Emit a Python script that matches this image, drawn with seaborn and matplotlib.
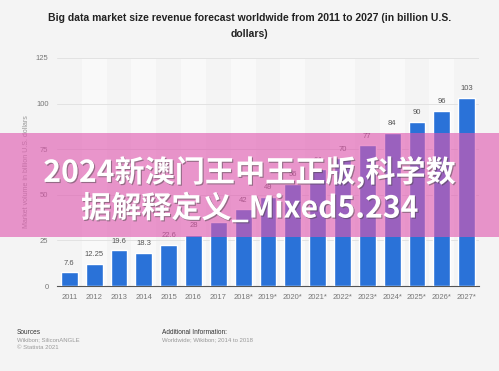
import pandas as pd
import matplotlib.pyplot as plt
import matplotlib.patheffects as pe
from matplotlib.patches import Rectangle
import seaborn as sns

# data
years = ['2011', '2012', '2013', '2014', '2015', '2016', '2017', '2018*', '2019*',
         '2020*', '2021*', '2022*', '2023*', '2024*', '2025*', '2026*', '2027*']
revenue = [7.6, 12.25, 19.6, 18.3, 22.6, 28, 35, 42, 49, 56, 64, 70, 77, 84, 90, 96, 103]
value_labels = ['7.6', '12.25', '19.6', '18.3', '22.6', '28', '35', '42', '49', '56',
                '64', '70', '77', '84', '90', '96', '103']
y_ticks = [0, 25, 50, 75, 100, 125]

title = 'Big data market size revenue forecast worldwide from 2011 to 2027 (in billion U.S.\ndollars)'
y_label = 'Market volume in billion U.S. dollars'
overlay_lines = ['2024新澳门王中王正版,科学数', '据解释定义_Mixed5.234']

sns.set_theme(style='white')
plt.rcParams['font.family'] = ['Liberation Sans', 'DejaVu Sans']

bg = '#f4f4f4'
df = pd.DataFrame({'Year': years, 'Revenue': revenue})

fig = plt.figure(figsize=(4.99, 3.71), dpi=100, facecolor=bg)
ax = fig.add_axes([0.114, 0.229, 0.846, 0.615])
ax.set_facecolor(bg)

# alternating light column bands
for i in range(1, len(years), 2):
    ax.axvspan(i - 0.5, i + 0.5, color='#f9f9f9', zorder=0, lw=0)

sns.barplot(data=df, x='Year', y='Revenue', color='#2a72d8', saturation=1,
            width=0.68, ax=ax, zorder=3)

for i, (v, lab) in enumerate(zip(revenue, value_labels)):
    ax.annotate(lab, (i, v), xytext=(0, 4), textcoords='offset points',
                ha='center', va='bottom', fontsize=5.5, color='#555555', zorder=4)

ax.set_ylim(0, 125)
ax.set_xlim(-0.5, len(years) - 0.5)
ax.set_yticks(y_ticks)
ax.yaxis.grid(True, color='#e2e2e2', lw=0.7)
ax.set_axisbelow(True)
for s in ['top', 'right', 'left']:
    ax.spines[s].set_visible(False)
ax.spines['bottom'].set_color('#555555')
ax.spines['bottom'].set_linewidth(0.8)
ax.tick_params(axis='both', length=0, labelsize=5.5, colors='#777777', pad=6)
ax.set_xlabel('')
ax.set_ylabel(y_label, fontsize=5, color='#999999', labelpad=4)

fig.text(0.5, 0.964, title, ha='center', va='top', fontsize=7.5, fontweight='bold',
         color='#222222', linespacing=1.75)

# footer
fig.text(0.034, 0.105, 'Sources', fontsize=4.7, color='#333333', va='center')
fig.text(0.034, 0.0835, 'Wikibon; SiliconANGLE', fontsize=4.3, color='#999999', va='center')
fig.text(0.034, 0.062, '© Statista 2021', fontsize=4.3, color='#999999', va='center')
fig.text(0.324, 0.105, 'Additional Information:', fontsize=4.7, color='#333333', va='center')
fig.text(0.324, 0.0835, 'Worldwide; Wikibon; 2014 to 2018', fontsize=4.3, color='#999999', va='center')

# pink overlay banner
fig.add_artist(Rectangle((0, 0.361), 1, 0.281, transform=fig.transFigure,
                         facecolor=(224/255, 88/255, 175/255), alpha=0.62, lw=0, zorder=5))
shadow = [pe.SimplePatchShadow(offset=(0.8, -0.8), shadow_rgbFace='#444444', alpha=0.5), pe.Normal()]
fig.text(0.5, 0.536, overlay_lines[0], ha='center', va='center', fontsize=21.7,
         fontweight='bold', color='white', family=['Noto Sans CJK SC', 'DejaVu Sans'],
         path_effects=shadow, zorder=6)
fig.text(0.5, 0.439, overlay_lines[1], ha='center', va='center', fontsize=21.7,
         fontweight='bold', color='white', family=['Noto Sans CJK SC', 'DejaVu Sans'],
         path_effects=shadow, zorder=6)

fig.savefig('out.png', dpi=100, facecolor=bg)
plt.close(fig)
